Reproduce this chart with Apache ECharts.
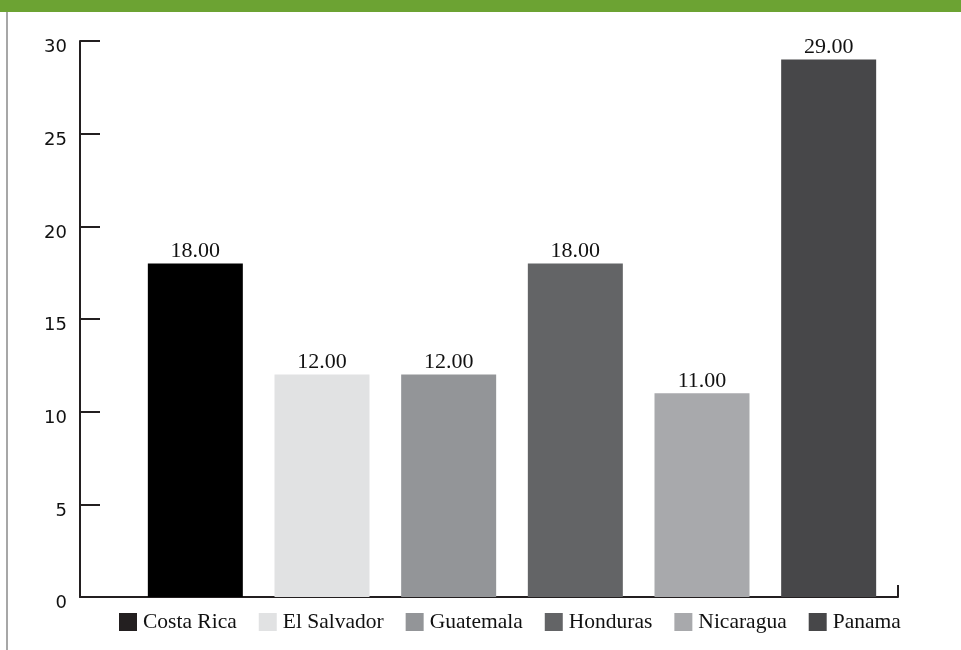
<!DOCTYPE html>
<html>
<head>
<meta charset="utf-8">
<script src="https://cdn.jsdelivr.net/npm/echarts@6/dist/echarts.min.js"></script>
<style>
  html, body { margin: 0; padding: 0; background: #fff; }
  #main { width: 961px; height: 650px; }
</style>
</head>
<body>
<div id="main"></div>
<script>
// datos
var countries = ['Costa Rica', 'El Salvador', 'Guatemala', 'Honduras', 'Nicaragua', 'Panama'];
var values = [18, 12, 12, 18, 11, 29];
var colors = ['#000000', '#e1e2e3', '#939598', '#636466', '#a8a9ac', '#474749'];
var legendColors = ['#231f20', '#e1e2e3', '#939598', '#636466', '#a8a9ac', '#474749'];

var myChart = echarts.init(document.getElementById('main'));

var serif = '"Liberation Serif", "DejaVu Serif", serif';

var series = countries.map(function (name, i) {
  return {
    name: name,
    type: 'bar',
    stack: 'all',
    xAxisIndex: 1,
    yAxisIndex: 1,
    barWidth: 95,
    itemStyle: { color: colors[i] },
    data: countries.map(function (c, j) { return j === i ? values[i] : '-'; }),
    label: {
      show: true,
      position: 'top',
      distance: 1,
      color: '#111',
      fontFamily: serif,
      fontSize: 22,
      formatter: function (p) { return p.value.toFixed(2); }
    }
  };
});

myChart.setOption({
  animation: false,
  graphic: [
    { type: 'rect', shape: { x: 0, y: 0, width: 961, height: 12 }, style: { fill: '#6ca333' } },
    { type: 'line', shape: { x1: 7, y1: 12, x2: 7, y2: 650 }, style: { stroke: '#8a8a8a', lineWidth: 1.5 } }
  ],
  legend: {
    bottom: 12,
    left: 114,
    itemWidth: 18,
    itemHeight: 18,
    itemGap: 22,
    icon: 'rect',
    data: countries.map(function (c, i) { return { name: c, itemStyle: { color: legendColors[i] } }; }),
    textStyle: { fontFamily: serif, fontSize: 21.5, color: '#111', padding: [0, 0, 0, 1] }
  },
  grid: [
    { left: 80, right: 63, top: 41, bottom: 53 },
    { left: 132, right: 69, top: 41, bottom: 53 }
  ],
  xAxis: [
    {
      type: 'value', gridIndex: 0, min: 0, max: 1, interval: 1,
      axisLine: { show: true, lineStyle: { color: '#231f20', width: 2 } },
      axisTick: { show: true, inside: true, length: 12, lineStyle: { color: '#231f20', width: 2 } },
      axisLabel: { show: false },
      splitLine: { show: false }
    },
    {
      type: 'category', gridIndex: 1, data: countries,
      axisLine: { show: false }, axisTick: { show: false }, axisLabel: { show: false }
    }
  ],
  yAxis: [
    {
      type: 'value', gridIndex: 0, min: 0, max: 30, interval: 5,
      axisLine: { show: true, lineStyle: { color: '#231f20', width: 2 } },
      axisTick: { show: true, inside: true, length: 20, lineStyle: { color: '#231f20', width: 2 } },
      axisLabel: {
        margin: 13,
        formatter: '{v|{value}}',
        rich: {
          v: { color: '#111', fontFamily: '"DejaVu Sans", sans-serif', fontSize: 18, padding: [13, 0, 0, 0] }
        }
      },
      splitLine: { show: false }
    },
    {
      type: 'value', gridIndex: 1, min: 0, max: 30, interval: 5, show: false,
      splitLine: { show: false }
    }
  ],
  series: series
});
</script>
</body>
</html>
